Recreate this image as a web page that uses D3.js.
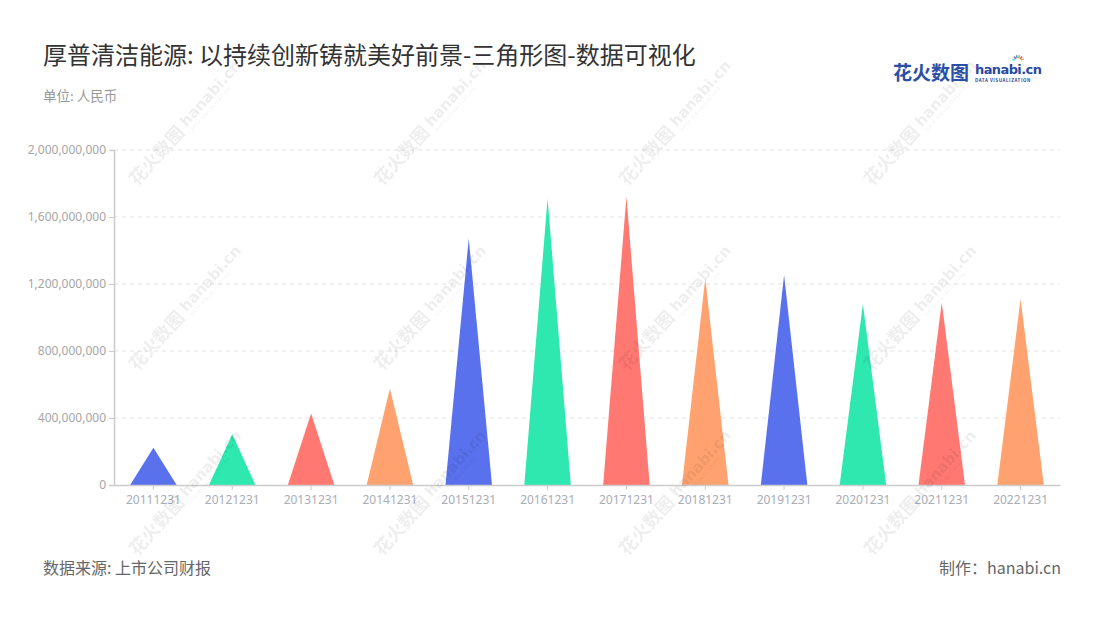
<!DOCTYPE html>
<html>
<head>
<meta charset="utf-8">
<script src="https://cdn.jsdelivr.net/npm/d3@7"></script>
<style>
  body { margin: 0; background: #fff; }
  svg { display: block; font-family: "Noto Sans CJK SC", "Noto Sans", sans-serif; }
</style>
</head>
<body>
<svg id="chart" width="1100" height="620"></svg>
<script>
// data
const categories = ['20111231', '20121231', '20131231', '20141231', '20151231', '20161231',
  '20171231', '20181231', '20191231', '20201231', '20211231', '20221231'];
const values = [223e6, 303e6, 427e6, 576e6, 1472e6, 1711e6, 1721e6, 1233e6, 1253e6, 1080e6, 1090e6, 1110e6];
const yTicks = [0, 4e8, 8e8, 12e8, 16e8, 20e8];

const palette = ['#5a71ee', '#2ee8b0', '#ff7872', '#ffa26f'];

const svg = d3.select('#chart');
const width = 1100, height = 620;
const margin = { top: 150, right: 40, bottom: 135, left: 114 };

svg.append('rect').attr('width', width).attr('height', height).attr('fill', '#fff');

const x = d3.scaleBand()
  .domain(categories)
  .range([margin.left, width - margin.right]);

const y = d3.scaleLinear()
  .domain([0, 2e9])
  .range([height - margin.bottom, margin.top]);

// dashed grid
svg.append('g')
  .selectAll('line')
  .data(yTicks.filter(d => d > 0))
  .enter().append('line')
  .attr('x1', margin.left)
  .attr('x2', width - margin.right)
  .attr('y1', d => y(d))
  .attr('y2', d => y(d))
  .attr('stroke', '#e3e3e3')
  .attr('stroke-dasharray', '4,4');

// triangles
const triW = x.bandwidth() * 0.59;
svg.append('g')
  .selectAll('path')
  .data(values)
  .enter().append('path')
  .attr('fill', (d, i) => palette[i % palette.length])
  .attr('d', (d, i) => {
    const c = x(categories[i]) + x.bandwidth() / 2;
    return `M${c - triW / 2},${y(0)}L${c},${y(d)}L${c + triW / 2},${y(0)}Z`;
  });

// y axis
const yAxis = svg.append('g')
  .attr('transform', `translate(${margin.left},0)`)
  .call(d3.axisLeft(y).tickValues(yTicks).tickFormat(d3.format(',')).tickSize(5).tickPadding(3));
yAxis.select('.domain').attr('stroke', '#cccccc').attr('stroke-width', 1.5);
yAxis.selectAll('.tick line').attr('stroke', '#cccccc');
yAxis.selectAll('.tick text')
  .attr('fill', '#a6a6a6')
  .style('font-size', '12px')
  .style('font-family', '"Noto Sans", sans-serif');

// x axis
const xAxis = svg.append('g')
  .attr('transform', `translate(0,${y(0)})`)
  .call(d3.axisBottom(x).tickSize(5).tickSizeOuter(0).tickPadding(5));
xAxis.select('.domain').attr('stroke', '#cccccc').attr('stroke-width', 1.5);
xAxis.selectAll('.tick line').attr('stroke', '#cccccc');
xAxis.selectAll('.tick text')
  .attr('fill', '#a9adb8')
  .style('font-size', '12px')
  .style('font-family', '"Noto Sans", sans-serif');

// titles
svg.append('text')
  .attr('x', 43).attr('y', 64)
  .attr('fill', '#333')
  .style('font-size', '24px')
  .text('厚普清洁能源: 以持续创新铸就美好前景-三角形图-数据可视化');

svg.append('text')
  .attr('x', 43).attr('y', 101)
  .attr('fill', '#999')
  .style('font-size', '13.5px')
  .text('单位: 人民币');

svg.append('text')
  .attr('x', 43).attr('y', 574)
  .attr('fill', '#666')
  .style('font-size', '16px')
  .text('数据来源: 上市公司财报');

svg.append('text')
  .attr('x', 1061).attr('y', 574)
  .attr('text-anchor', 'end')
  .attr('fill', '#666')
  .style('font-size', '16px')
  .text('制作：hanabi.cn');

// logo
const logo = svg.append('g');
logo.append('text')
  .attr('x', 893).attr('y', 80)
  .attr('fill', '#2b4fa6')
  .style('font-size', '19px')
  .style('font-weight', 'bold')
  .text('花火数图');
logo.append('text')
  .attr('x', 975).attr('y', 74)
  .attr('fill', '#2b4a9e')
  .style('font-size', '13px')
  .style('font-weight', 'bold')
  .style('font-family', '"DejaVu Sans", sans-serif')
  .style('letter-spacing', '-0.6px')
  .text('hanabi.cn');
logo.append('text')
  .attr('x', 975).attr('y', 82)
  .attr('fill', '#2b4a9e')
  .style('font-size', '4.5px')
  .style('font-weight', 'bold')
  .style('letter-spacing', '0.55px')
  .text('DATA VISUALIZATION');
const sparks = ['#f5a623', '#e94e77', '#7ed321', '#4a90e2', '#9b59b6', '#50e3c2'];
logo.append('g')
  .selectAll('line')
  .data(sparks)
  .enter().append('line')
  .attr('x1', (d, i) => 1018 + 3 * Math.cos(Math.PI * (0.1 + i * 0.16)))
  .attr('y1', (d, i) => 61 - 3 * Math.sin(Math.PI * (0.1 + i * 0.16)))
  .attr('x2', (d, i) => 1018 + 6 * Math.cos(Math.PI * (0.1 + i * 0.16)))
  .attr('y2', (d, i) => 61 - 6 * Math.sin(Math.PI * (0.1 + i * 0.16)))
  .attr('stroke', d => d)
  .attr('stroke-width', 1.5);

// watermarks
const wmCols = [183, 428, 673, 918];
const wmRows = [127, 312, 497];
const wm = svg.append('g').attr('opacity', 0.07).attr('fill', '#000');
wmRows.forEach(ry => {
  wmCols.forEach(cx => {
    const g = wm.append('g').attr('transform', `translate(${cx},${ry}) rotate(-48)`);
    g.append('text')
      .attr('x', -75).attr('y', 6)
      .style('font-size', '18px')
      .style('font-weight', 'bold')
      .text('花火数图');
    g.append('text')
      .attr('x', 2).attr('y', 3)
      .style('font-size', '15px')
      .style('font-weight', 'bold')
      .style('font-family', '"DejaVu Sans", sans-serif')
      .text('hanabi.cn');
    g.append('text')
      .attr('x', 3).attr('y', 10)
      .style('font-size', '4.5px')
      .style('letter-spacing', '0.8px')
      .text('DATA VISUALIZATION');
  });
});
</script>
</body>
</html>
